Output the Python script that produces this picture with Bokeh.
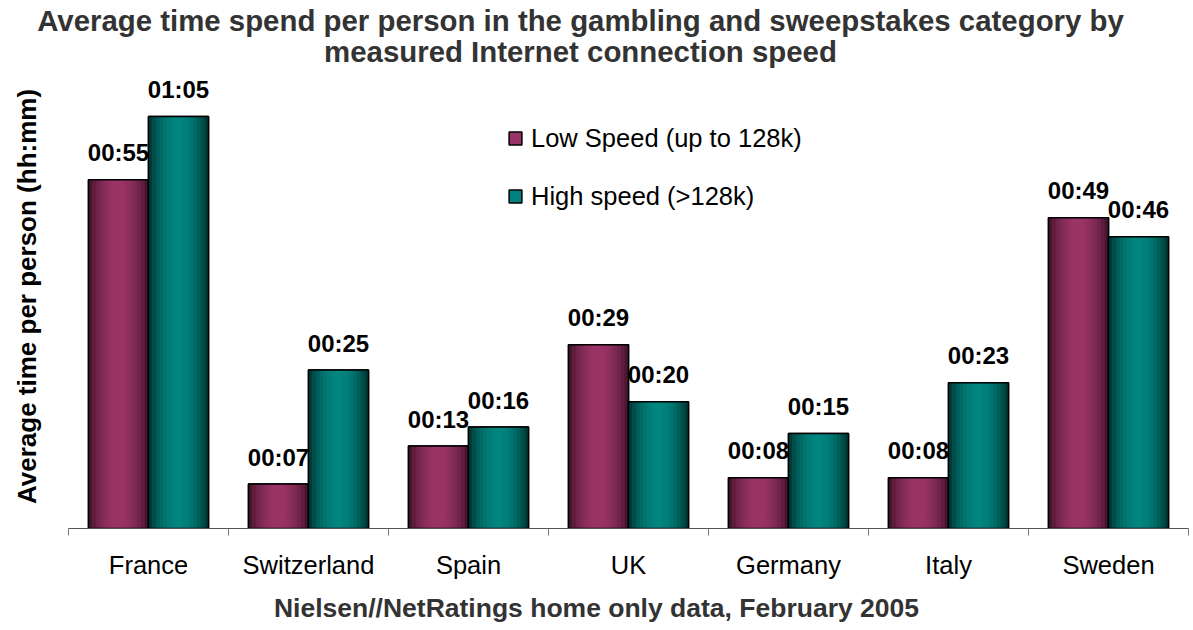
import math
import numpy as np
from bokeh.plotting import figure
from bokeh.models import (Range1d, LinearAxis, FixedTicker, Label, Legend, LegendItem)
from bokeh.embed import file_html
from bokeh.resources import INLINE
from bokeh.core.properties import value

# ---------------- data ----------------
categories = ["France", "Switzerland", "Spain", "UK", "Germany", "Italy", "Sweden"]
low_speed_min = [55, 7, 13, 29, 8, 8, 49]      # minutes
high_speed_min = [65, 25, 16, 20, 15, 23, 46]  # minutes
series_names = ["Low Speed (up to 128k)", "High speed (>128k)"]
title_lines = ["Average time spend per person in the gambling and sweepstakes category by",
               "measured Internet connection speed"]
y_title = "Average time per person (hh:mm)"
x_title = "Nielsen//NetRatings home only data, February 2005"


def hhmm(m):
    return f"{m // 60:02d}:{m % 60:02d}"


# ---------------- layout constants ----------------
FONT = "Liberation Sans"
CANVAS_W = 1192
FRAME_H = 528
BORDER_B = 100
PX_PER_CAT = 160.0
AXIS_LEFT_PX = 68
PX_PER_MIN = 6.34
Y_MAX = FRAME_H / PX_PER_MIN
X_MIN = -0.5 - AXIS_LEFT_PX / PX_PER_CAT
X_MAX = X_MIN + CANVAS_W / PX_PER_CAT
BAR_W = 0.375
N_STRIPS = 16

series_light = ["#9b3466", "#00857f"]
series_dark = ["#3a1026", "#002d2b"]
series_mid = ["#993366", "#008080"]


def cx(px):  # canvas x pixel -> data x
    return X_MIN + px / PX_PER_CAT


def cy(py):  # canvas y pixel -> data y
    return (FRAME_H - py) / PX_PER_MIN


def mix(c1, c2, f):
    a = [int(c1[i:i + 2], 16) for i in (1, 3, 5)]
    b = [int(c2[i:i + 2], 16) for i in (1, 3, 5)]
    return "#" + "".join(f"{round(a[k] + (b[k] - a[k]) * f):02x}" for k in range(3))


p = figure(frame_width=CANVAS_W, frame_height=FRAME_H,
           min_border_left=0, min_border_right=0,
           min_border_top=0, min_border_bottom=BORDER_B,
           x_range=Range1d(X_MIN, X_MAX), y_range=Range1d(0, Y_MAX),
           x_axis_location=None, y_axis_location=None,
           output_backend="svg", toolbar_location=None)
p.outline_line_color = None
p.grid.visible = False
p.background_fill_color = "white"
p.border_fill_color = "white"

idx = np.arange(len(categories))
legend_items = []
for s, vals in enumerate([low_speed_min, high_speed_min]):
    xs = idx + (s - 0.5) * BAR_W
    base = p.vbar(x=xs, top=vals, width=BAR_W, fill_color=series_mid[s],
                  line_color="black", line_width=1.5)
    legend_items.append(LegendItem(label=series_names[s], renderers=[base]))
    for k in range(N_STRIPS):
        t = (k + 0.5) / N_STRIPS
        f = math.sin(math.pi * t) ** 0.8
        col = mix(series_dark[s], series_light[s], f)
        p.vbar(x=xs + (t - 0.5) * BAR_W, top=vals, width=BAR_W / N_STRIPS * 1.1,
               fill_color=col, line_color=None)
    p.vbar(x=xs, top=vals, width=BAR_W, fill_color=None, line_color="black", line_width=1.5)
    p.text(x=xs, y=vals, text=[hhmm(v) for v in vals], text_align="center",
           text_baseline="alphabetic", y_offset=-27, text_font=value(FONT),
           text_font_style="bold", text_font_size="24px", text_color="black")

# x axis with boundary ticks, limited to the category span
xaxis = LinearAxis(ticker=FixedTicker(ticks=list(idx),
                                      minor_ticks=[i - 0.5 for i in range(len(categories) + 1)]),
                   major_label_overrides={int(i): c for i, c in zip(idx, categories)},
                   bounds=(-0.5, len(categories) - 0.5))
xaxis.major_tick_out = 0
xaxis.major_tick_in = 0
xaxis.minor_tick_out = 7
xaxis.minor_tick_in = 0
xaxis.axis_line_color = "#555555"
xaxis.minor_tick_line_color = "#777777"
xaxis.axis_line_width = 1.2
xaxis.major_label_standoff = 15
xaxis.major_label_text_font = FONT
xaxis.major_label_text_font_size = "25.5px"
xaxis.major_label_text_color = "black"
xaxis.axis_label = x_title
xaxis.axis_label_standoff = 11
xaxis.axis_label_text_font = FONT
xaxis.axis_label_text_font_style = "bold"
xaxis.axis_label_text_font_size = "26.5px"
xaxis.axis_label_text_color = "#333333"
p.add_layout(xaxis, "below")

# titles
p.add_layout(Label(x=cx(580), y=cy(20), text=title_lines[0], text_align="center",
                   text_baseline="alphabetic", text_font=FONT, text_font_style="bold",
                   text_font_size="29.4px", text_color="#333333"))
p.add_layout(Label(x=cx(580), y=cy(51), text=title_lines[1], text_align="center",
                   text_baseline="alphabetic", text_font=FONT, text_font_style="bold",
                   text_font_size="29.4px", text_color="#333333"))
p.add_layout(Label(x=cx(26), y=cy(296), text=y_title, angle=math.pi / 2, text_align="center",
                   text_baseline="middle", text_font=FONT, text_font_style="bold",
                   text_font_size="26px", text_color="black"))

legend = Legend(items=legend_items, location=(507, 317), orientation="vertical",
                glyph_width=16, glyph_height=16, label_standoff=8, spacing=28,
                padding=0, margin=0, border_line_color=None, background_fill_alpha=0,
                label_text_font=FONT, label_text_font_size="25.5px", label_height=30,
                label_text_color="black")
p.add_layout(legend)

open("out.html", "w").write(file_html(p, INLINE))
